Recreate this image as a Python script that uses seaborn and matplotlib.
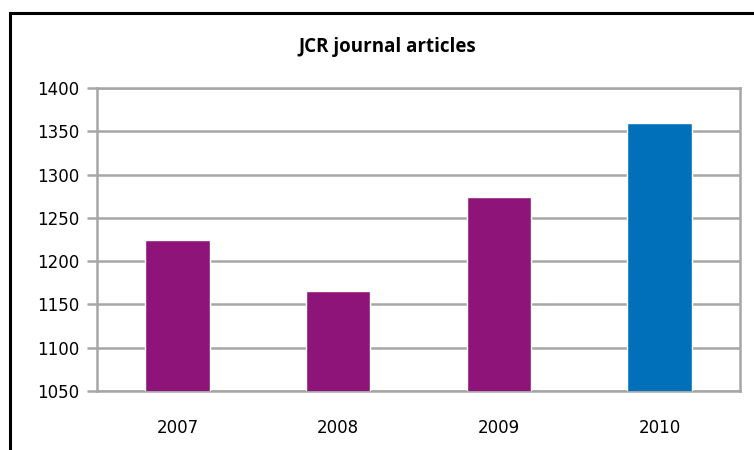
import seaborn as sns
import pandas as pd
import matplotlib.pyplot as plt
from matplotlib.patches import Rectangle

years = ["2007", "2008", "2009", "2010"]
articles = [1225, 1166, 1274, 1360]
bar_colors = ["#8E1479", "#8E1479", "#8E1479", "#0070BA"]

df = pd.DataFrame({"year": years, "articles": articles})

sns.set_style("white")
plt.rcParams["font.family"] = ["DejaVu Sans"]

fig = plt.figure(figsize=(7.54, 4.5), dpi=100)
ax = fig.add_axes([97 / 754, 1 - 391 / 450, (740 - 97) / 754, (391 - 88) / 450])

sns.barplot(data=df, x="year", y="articles", hue="year", palette=bar_colors,
            width=0.4, legend=False, saturation=1, ax=ax, zorder=3)

ax.set_ylim(1050, 1400)
ax.set_yticks(range(1050, 1401, 50))
ax.set_xlim(-0.5, 3.5)
ax.grid(axis="y", color="#A6A6A6", linewidth=1.8, zorder=0)
ax.set_axisbelow(True)
for s in ax.spines.values():
    s.set_color("#A6A6A6")
    s.set_linewidth(1.8)

ax.set_xticks([-0.5, 0.5, 1.5, 2.5, 3.5], minor=True)
ax.tick_params(axis="x", which="minor", length=5, width=1.8, color="#A6A6A6", direction="out")
ax.tick_params(axis="x", which="major", length=0, pad=20, labelsize=12, labelcolor="black")
ax.tick_params(axis="y", length=7, width=1.8, color="#A6A6A6", pad=6, labelsize=12,
               labelcolor="black", left=True)
ax.set_xlabel("")
ax.set_ylabel("")

fig.text(387 / 754, 1 - 47 / 450, "JCR journal articles", ha="center", va="center",
         fontsize=13.5, fontweight="bold", family="Open Sans", color="black")

# outer chart border, cut off at right and bottom like the source
fig.patches.append(Rectangle((10 / 754, -0.1), 1.0, 1 - 13 / 450 + 0.1,
                             transform=fig.transFigure, fill=False,
                             edgecolor="black", linewidth=2.2))

fig.savefig("out.png", dpi=100)
